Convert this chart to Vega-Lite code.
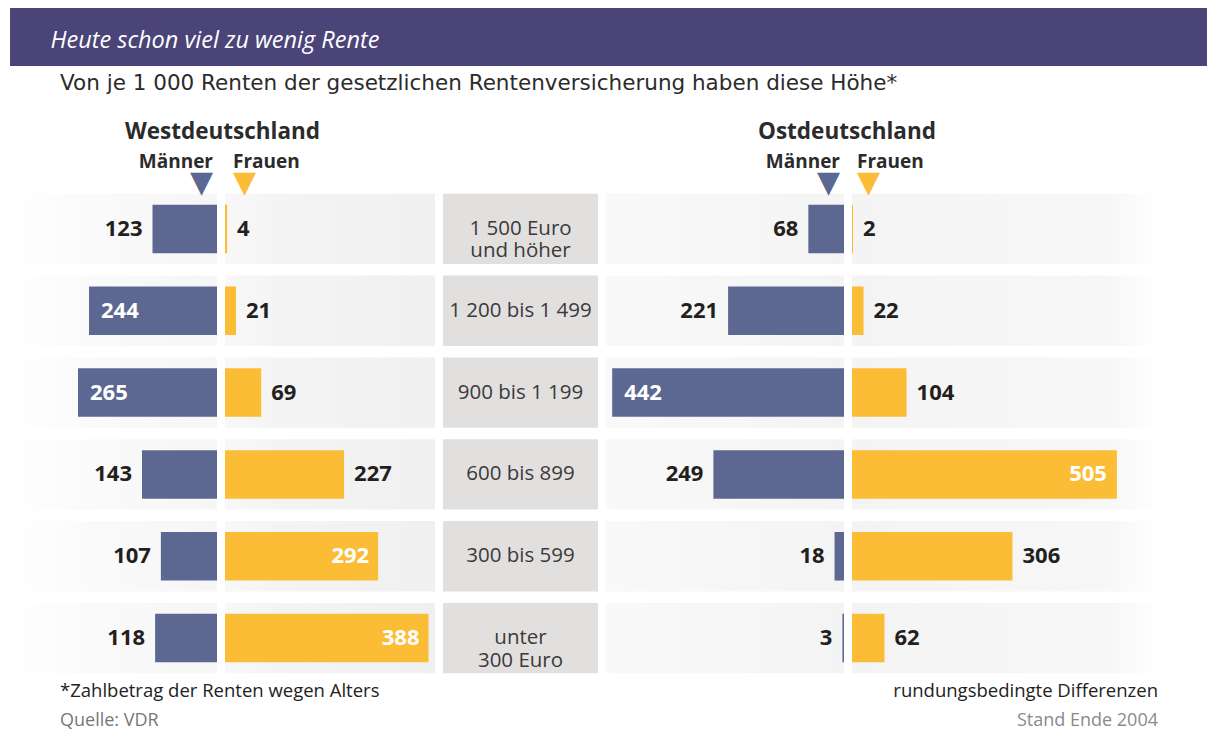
{
  "$schema": "https://vega.github.io/schema/vega-lite/v6.json",
  "padding": {"left": 10, "top": 8, "right": 0, "bottom": 0},
  "background": "white",
  "datasets": {
    "rows": [
      {"region": "West", "sex": "Männer", "category": "1 500 Euro\nund höher", "value": 123},
      {"region": "West", "sex": "Männer", "category": "1 200 bis 1 499", "value": 244},
      {"region": "West", "sex": "Männer", "category": "900 bis 1 199", "value": 265},
      {"region": "West", "sex": "Männer", "category": "600 bis 899", "value": 143},
      {"region": "West", "sex": "Männer", "category": "300 bis 599", "value": 107},
      {"region": "West", "sex": "Männer", "category": "unter\n300 Euro", "value": 118},
      {"region": "West", "sex": "Frauen", "category": "1 500 Euro\nund höher", "value": 4},
      {"region": "West", "sex": "Frauen", "category": "1 200 bis 1 499", "value": 21},
      {"region": "West", "sex": "Frauen", "category": "900 bis 1 199", "value": 69},
      {"region": "West", "sex": "Frauen", "category": "600 bis 899", "value": 227},
      {"region": "West", "sex": "Frauen", "category": "300 bis 599", "value": 292},
      {"region": "West", "sex": "Frauen", "category": "unter\n300 Euro", "value": 388},
      {"region": "Ost", "sex": "Männer", "category": "1 500 Euro\nund höher", "value": 68},
      {"region": "Ost", "sex": "Männer", "category": "1 200 bis 1 499", "value": 221},
      {"region": "Ost", "sex": "Männer", "category": "900 bis 1 199", "value": 442},
      {"region": "Ost", "sex": "Männer", "category": "600 bis 899", "value": 249},
      {"region": "Ost", "sex": "Männer", "category": "300 bis 599", "value": 18},
      {"region": "Ost", "sex": "Männer", "category": "unter\n300 Euro", "value": 3},
      {"region": "Ost", "sex": "Frauen", "category": "1 500 Euro\nund höher", "value": 2},
      {"region": "Ost", "sex": "Frauen", "category": "1 200 bis 1 499", "value": 22},
      {"region": "Ost", "sex": "Frauen", "category": "900 bis 1 199", "value": 104},
      {"region": "Ost", "sex": "Frauen", "category": "600 bis 899", "value": 505},
      {"region": "Ost", "sex": "Frauen", "category": "300 bis 599", "value": 306},
      {"region": "Ost", "sex": "Frauen", "category": "unter\n300 Euro", "value": 62}
    ],
    "header": [{"title": "Heute schon viel zu wenig Rente"}]
  },
  "spacing": 7,
  "vconcat": [
    {
      "width": 1197,
      "height": 58,
      "data": {"name": "header"},
      "layer": [
        {"mark": {"type": "rect", "color": "#4a4478"}},
        {"mark": {"type": "text", "align": "left", "baseline": "alphabetic", "dx": -558, "dy": 11, "font": "Open Sans", "fontSize": 23.5, "fontStyle": "italic", "color": "white"}, "encoding": {"text": {"field": "title"}}}
      ]
    },
    {
      "title": {"text": "Von je 1 000 Renten der gesetzlichen Rentenversicherung haben diese Höhe*", "anchor": "start", "dx": 50, "font": "DejaVu Sans", "fontSize": 21.5, "fontWeight": "normal", "color": "#2b2b2b", "offset": 26},
      "spacing": 8,
      "hconcat": [
        {
          "title": {"text": "*Zahlbetrag der Renten wegen Alters", "subtitle": "Quelle: VDR", "orient": "bottom", "anchor": "start", "dx": 50, "font": "Open Sans", "fontSize": 18.5, "fontWeight": "normal", "color": "#222222", "subtitleFont": "Open Sans", "subtitleFontSize": 18, "subtitleColor": "#777777", "subtitlePadding": 11, "offset": 3},
          "vconcat": [
            {
              "title": {"text": "Westdeutschland", "anchor": "middle", "font": "Open Sans", "fontSize": 22.5, "fontWeight": "bold", "color": "#2b2b2b", "offset": 10},
              "spacing": 8,
              "hconcat": [
                {
                  "width": 207, "height": 491,
                  "title": {"text": "Männer", "subtitle": "▼", "anchor": "end", "dx": -4, "font": "Open Sans", "fontSize": 19, "fontWeight": "bold", "color": "#2b2b2b", "subtitleFont": "DejaVu Sans", "subtitleFontSize": 30, "subtitleColor": "#5c6891", "subtitlePadding": -4, "offset": -10},
                  "data": {"name": "rows"},
                  "transform": [{"filter": "datum.region === 'West' && datum.sex === 'Männer'"}],
                  "encoding": {"y": {"field": "category", "type": "nominal", "sort": ["1 500 Euro\nund höher", "1 200 bis 1 499", "900 bis 1 199", "600 bis 899", "300 bis 599", "unter\n300 Euro"], "axis": null, "scale": {"paddingInner": 0.14, "paddingOuter": 0.07}}},
                  "layer": [
                    {"mark": {"type": "rect", "color": {"gradient": "linear", "x1": 0, "x2": 1, "y1": 0, "y2": 0, "stops": [{"offset": 0, "color": "#ffffff"}, {"offset": 0.4, "color": "#fafafa"}, {"offset": 1, "color": "#f6f6f6"}]}}},
                    {"mark": {"type": "bar", "height": {"band": 0.69}, "color": "#5c6891"}, "encoding": {"x": {"field": "value", "type": "quantitative", "scale": {"domain": [0, 394.7], "reverse": true}, "axis": null}}},
                    {"transform": [{"filter": "datum.value <= 200"}], "mark": {"type": "text", "align": "right", "baseline": "middle", "dx": -10, "font": "Open Sans", "fontSize": 22, "fontWeight": "bold", "color": "#231f20"}, "encoding": {"x": {"field": "value", "type": "quantitative", "scale": {"domain": [0, 394.7], "reverse": true}, "axis": null}, "text": {"field": "value"}}},
                    {"transform": [{"filter": "datum.value > 200"}], "mark": {"type": "text", "align": "left", "baseline": "middle", "dx": 12, "font": "Open Sans", "fontSize": 22, "fontWeight": "bold", "color": "white"}, "encoding": {"x": {"field": "value", "type": "quantitative", "scale": {"domain": [0, 394.7], "reverse": true}, "axis": null}, "text": {"field": "value"}}}
                  ],
                  "resolve": {"scale": {"x": "independent"}}
                },
                {
                  "width": 210, "height": 491,
                  "title": {"text": "Frauen", "subtitle": "▼", "anchor": "start", "dx": 8, "font": "Open Sans", "fontSize": 19, "fontWeight": "bold", "color": "#2b2b2b", "subtitleFont": "DejaVu Sans", "subtitleFontSize": 30, "subtitleColor": "#fbbd36", "subtitlePadding": -4, "offset": -10},
                  "data": {"name": "rows"},
                  "transform": [{"filter": "datum.region === 'West' && datum.sex === 'Frauen'"}],
                  "encoding": {"y": {"field": "category", "type": "nominal", "sort": ["1 500 Euro\nund höher", "1 200 bis 1 499", "900 bis 1 199", "600 bis 899", "300 bis 599", "unter\n300 Euro"], "axis": null, "scale": {"paddingInner": 0.14, "paddingOuter": 0.07}}},
                  "layer": [
                    {"mark": {"type": "rect", "color": {"gradient": "linear", "x1": 0, "x2": 1, "y1": 0, "y2": 0, "stops": [{"offset": 0, "color": "#f8f8f8"}, {"offset": 0.25, "color": "#f4f4f4"}, {"offset": 1, "color": "#f0f0f0"}]}}},
                    {"mark": {"type": "bar", "height": {"band": 0.69}, "color": "#fbbd36"}, "encoding": {"x": {"field": "value", "type": "quantitative", "scale": {"domain": [0, 400.4]}, "axis": null}}},
                    {"transform": [{"filter": "datum.value <= 250"}], "mark": {"type": "text", "align": "left", "baseline": "middle", "dx": 10, "font": "Open Sans", "fontSize": 22, "fontWeight": "bold", "color": "#231f20"}, "encoding": {"x": {"field": "value", "type": "quantitative", "scale": {"domain": [0, 400.4]}, "axis": null}, "text": {"field": "value"}}},
                    {"transform": [{"filter": "datum.value > 250"}], "mark": {"type": "text", "align": "right", "baseline": "middle", "dx": -9, "font": "Open Sans", "fontSize": 22, "fontWeight": "bold", "color": "white"}, "encoding": {"x": {"field": "value", "type": "quantitative", "scale": {"domain": [0, 400.4]}, "axis": null}, "text": {"field": "value"}}}
                  ],
                  "resolve": {"scale": {"x": "independent"}}
                }
              ]
            }
          ]
        },
        {
          "vconcat": [
            {
              "title": {"text": " ", "anchor": "middle", "font": "Open Sans", "fontSize": 22.5, "fontWeight": "bold", "color": "#2b2b2b", "offset": 10},
              "hconcat": [
                {
                  "width": 155, "height": 491,
                  "title": {"text": " ", "subtitle": " ", "anchor": "end", "font": "Open Sans", "fontSize": 19, "fontWeight": "bold", "subtitleFont": "DejaVu Sans", "subtitleFontSize": 30, "subtitlePadding": -4, "offset": -10},
                  "data": {"name": "rows"},
                  "transform": [{"filter": "datum.region === 'West' && datum.sex === 'Männer'"}],
                  "encoding": {"y": {"field": "category", "type": "nominal", "sort": ["1 500 Euro\nund höher", "1 200 bis 1 499", "900 bis 1 199", "600 bis 899", "300 bis 599", "unter\n300 Euro"], "axis": null, "scale": {"paddingInner": 0.14, "paddingOuter": 0.07}}},
                  "layer": [
                    {"mark": {"type": "rect", "color": "#e2e0df"}},
                    {"mark": {"type": "text", "align": "center", "baseline": "middle", "lineBreak": "\n", "font": "Open Sans", "fontSize": 20.5, "lineHeight": 22.5, "color": "#3a3a3a"}, "encoding": {"text": {"field": "category"}}}
                  ]
                }
              ]
            }
          ]
        },
        {
          "title": {"text": "rundungsbedingte Differenzen", "subtitle": "Stand Ende 2004", "orient": "bottom", "anchor": "end", "font": "Open Sans", "fontSize": 18.5, "fontWeight": "normal", "color": "#222222", "subtitleFont": "Open Sans", "subtitleFontSize": 18, "subtitleColor": "#8a8a8a", "subtitlePadding": 11, "offset": 3},
          "vconcat": [
            {
              "title": {"text": "Ostdeutschland", "anchor": "middle", "dx": -35, "font": "Open Sans", "fontSize": 22.5, "fontWeight": "bold", "color": "#2b2b2b", "offset": 10},
              "spacing": 8,
              "hconcat": [
                {
                  "width": 238, "height": 491,
                  "title": {"text": "Männer", "subtitle": "▼", "anchor": "end", "dx": -4, "font": "Open Sans", "fontSize": 19, "fontWeight": "bold", "color": "#2b2b2b", "subtitleFont": "DejaVu Sans", "subtitleFontSize": 30, "subtitleColor": "#5c6891", "subtitlePadding": -4, "offset": -10},
                  "data": {"name": "rows"},
                  "transform": [{"filter": "datum.region === 'Ost' && datum.sex === 'Männer'"}],
                  "encoding": {"y": {"field": "category", "type": "nominal", "sort": ["1 500 Euro\nund höher", "1 200 bis 1 499", "900 bis 1 199", "600 bis 899", "300 bis 599", "unter\n300 Euro"], "axis": null, "scale": {"paddingInner": 0.14, "paddingOuter": 0.07}}},
                  "layer": [
                    {"mark": {"type": "rect", "color": {"gradient": "linear", "x1": 0, "x2": 1, "y1": 0, "y2": 0, "stops": [{"offset": 0, "color": "#f9f9f9"}, {"offset": 1, "color": "#f4f4f4"}]}}},
                    {"mark": {"type": "bar", "height": {"band": 0.69}, "color": "#5c6891"}, "encoding": {"x": {"field": "value", "type": "quantitative", "scale": {"domain": [0, 453.8], "reverse": true}, "axis": null}}},
                    {"transform": [{"filter": "datum.value <= 300"}], "mark": {"type": "text", "align": "right", "baseline": "middle", "dx": -10, "font": "Open Sans", "fontSize": 22, "fontWeight": "bold", "color": "#231f20"}, "encoding": {"x": {"field": "value", "type": "quantitative", "scale": {"domain": [0, 453.8], "reverse": true}, "axis": null}, "text": {"field": "value"}}},
                    {"transform": [{"filter": "datum.value > 300"}], "mark": {"type": "text", "align": "left", "baseline": "middle", "dx": 12, "font": "Open Sans", "fontSize": 22, "fontWeight": "bold", "color": "white"}, "encoding": {"x": {"field": "value", "type": "quantitative", "scale": {"domain": [0, 453.8], "reverse": true}, "axis": null}, "text": {"field": "value"}}}
                  ],
                  "resolve": {"scale": {"x": "independent"}}
                },
                {
                  "width": 306, "height": 491,
                  "title": {"text": "Frauen", "subtitle": "▼", "anchor": "start", "dx": 5, "font": "Open Sans", "fontSize": 19, "fontWeight": "bold", "color": "#2b2b2b", "subtitleFont": "DejaVu Sans", "subtitleFontSize": 30, "subtitleColor": "#fbbd36", "subtitlePadding": -4, "offset": -10},
                  "data": {"name": "rows"},
                  "transform": [{"filter": "datum.region === 'Ost' && datum.sex === 'Frauen'"}],
                  "encoding": {"y": {"field": "category", "type": "nominal", "sort": ["1 500 Euro\nund höher", "1 200 bis 1 499", "900 bis 1 199", "600 bis 899", "300 bis 599", "unter\n300 Euro"], "axis": null, "scale": {"paddingInner": 0.14, "paddingOuter": 0.07}}},
                  "layer": [
                    {"mark": {"type": "rect", "color": {"gradient": "linear", "x1": 0, "x2": 1, "y1": 0, "y2": 0, "stops": [{"offset": 0, "color": "#f4f4f4"}, {"offset": 0.85, "color": "#f7f7f7"}, {"offset": 1, "color": "#ffffff"}]}}},
                    {"mark": {"type": "bar", "height": {"band": 0.69}, "color": "#fbbd36"}, "encoding": {"x": {"field": "value", "type": "quantitative", "scale": {"domain": [0, 583.4]}, "axis": null}}},
                    {"transform": [{"filter": "datum.value <= 400"}], "mark": {"type": "text", "align": "left", "baseline": "middle", "dx": 10, "font": "Open Sans", "fontSize": 22, "fontWeight": "bold", "color": "#231f20"}, "encoding": {"x": {"field": "value", "type": "quantitative", "scale": {"domain": [0, 583.4]}, "axis": null}, "text": {"field": "value"}}},
                    {"transform": [{"filter": "datum.value > 400"}], "mark": {"type": "text", "align": "right", "baseline": "middle", "dx": -10, "font": "Open Sans", "fontSize": 22, "fontWeight": "bold", "color": "white"}, "encoding": {"x": {"field": "value", "type": "quantitative", "scale": {"domain": [0, 583.4]}, "axis": null}, "text": {"field": "value"}}}
                  ],
                  "resolve": {"scale": {"x": "independent"}}
                }
              ]
            }
          ]
        }
      ]
    }
  ],
  "config": {"view": {"stroke": null}}
}
